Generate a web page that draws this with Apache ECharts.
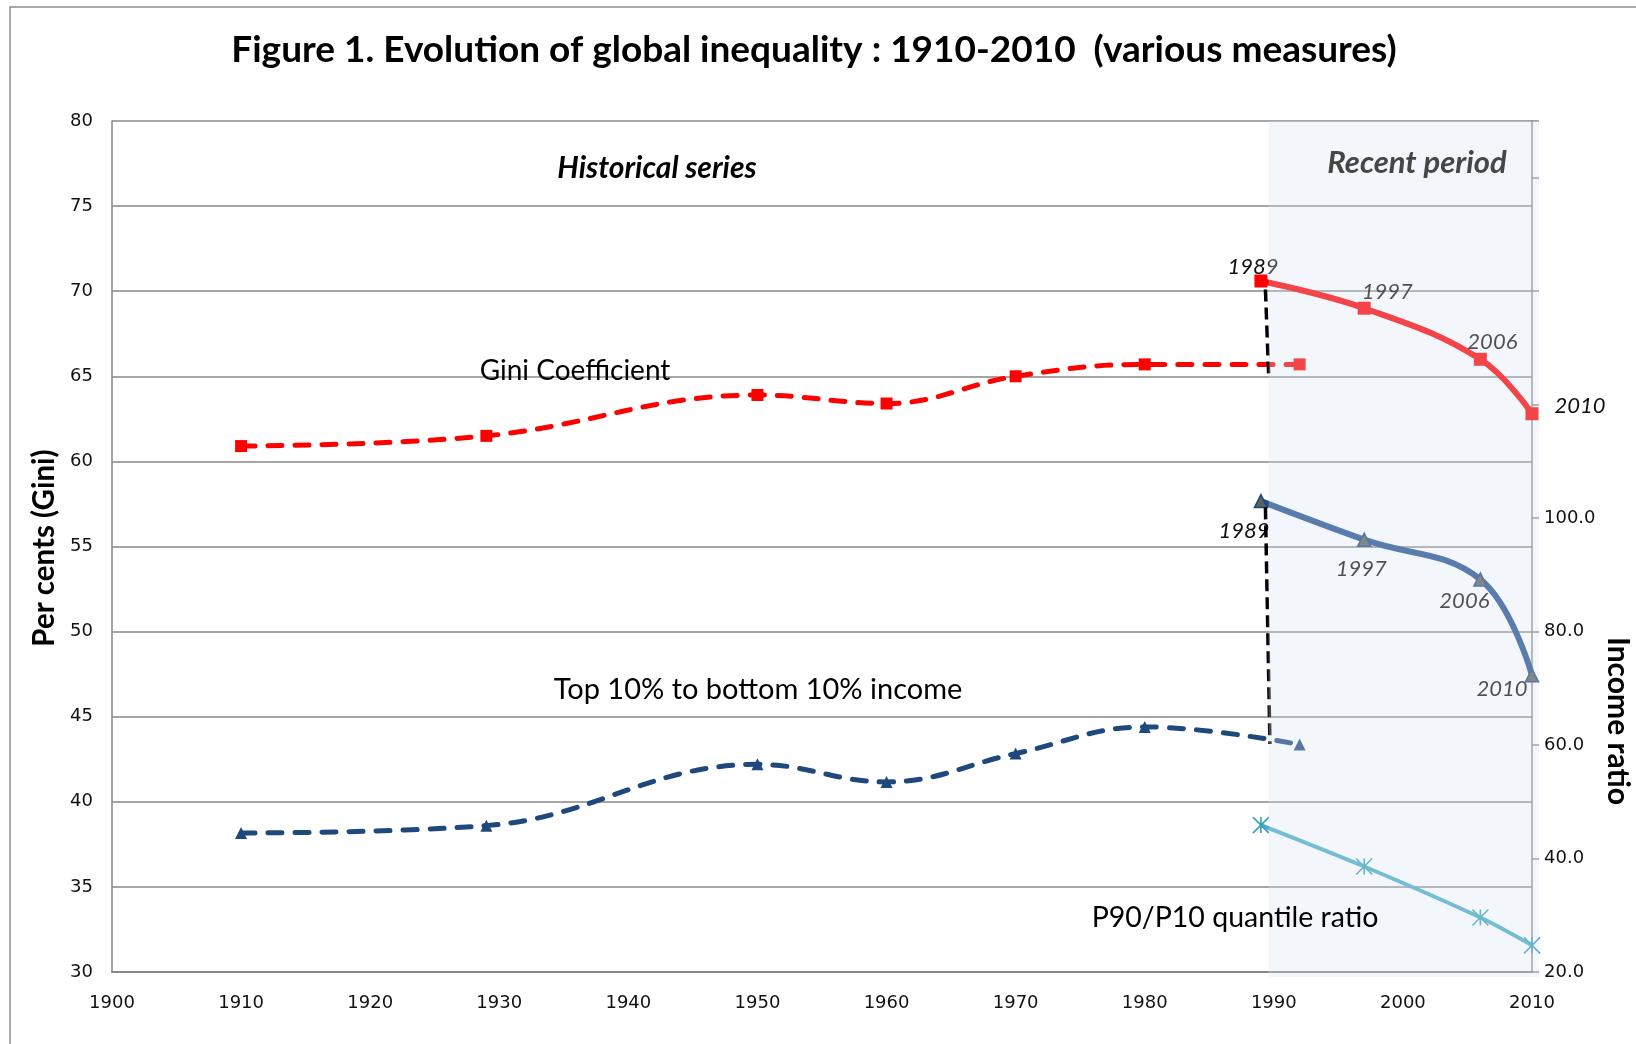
<!DOCTYPE html>
<html><head><meta charset="utf-8">
<script src="https://cdn.jsdelivr.net/npm/echarts@6/dist/echarts.min.js"></script>
<style>html,body{margin:0;padding:0;background:#fff}#c{width:1636px;height:1044px}</style>
</head><body><div id="c"></div>
<script>
// ---- data ----
const histYears = [1910, 1929, 1950, 1960, 1970, 1980, 1992];
const giniHist = [60.9, 61.5, 63.9, 63.4, 65.0, 65.7, 65.7];          // left axis (per cents)
const top10Hist = [44.5, 45.8, 56.6, 53.5, 58.5, 63.2, 60.1];         // right axis (income ratio)
const recentYears = [1989, 1997, 2006, 2010];
const giniRecent = [70.6, 69.0, 66.0, 62.8];                           // left axis
const top10Recent = [103.0, 96.2, 89.2, 72.3];                         // right axis
const p9010Recent = [45.9, 38.6, 29.6, 24.7];                          // right axis
const recentLabels = ['1989', '1997', '2006', '2010'];
const giniLink = [[1989.35, 70.1], [1989.6, 65.1]];                    // left axis
const top10Link = [[1989.35, 57.3], [1989.7, 43.4]];                   // left axis
const xTicks = {min: 1900, max: 2010, interval: 10};
const leftTicks = {min: 30, max: 80, interval: 5};
const rightTicks = {min: 20, max: 170, interval: 20, maxLabel: 100};

// ---- styles ----
const CAL = "Lato, 'Liberation Sans', sans-serif";
const TICK = "'DejaVu Sans', Verdana, sans-serif";
const RED = '#ff0000', BLUE = '#1f497d', BLUE2 = '#24508e', TEAL = '#4bacc6';
const AXIS = '#878787';

const chart = echarts.init(document.getElementById('c'));
const pairs = (xs, ys) => xs.map((x, i) => [x, ys[i]]);

const giniOff = [[-8, -14], [23, -16], [12, -17], [48, -8]];
const top10Off = [[-17, 30], [-3, 29], [-16, 22], [-30, 14]];
function withLabels(xs, ys, offs) {
  return xs.map((x, i) => ({
    value: [x, ys[i]],
    label: {show: true, position: 'inside', offset: offs[i], formatter: recentLabels[i],
      color: '#111', fontStyle: 'italic', fontSize: 22, fontFamily: CAL}
  }));
}

const option = {
  animation: false,
  grid: {left: 112, top: 121, width: 1420, height: 851, containLabel: false},
  xAxis: {
    type: 'value', min: xTicks.min, max: xTicks.max, interval: xTicks.interval,
    axisLine: {show: true, lineStyle: {color: AXIS, width: 2}},
    axisTick: {show: false}, splitLine: {show: false},
    axisLabel: {margin: 22, color: '#111', fontSize: 18, fontFamily: TICK, formatter: v => String(v)}
  },
  yAxis: [{
    type: 'value', min: leftTicks.min, max: leftTicks.max, interval: leftTicks.interval,
    axisLine: {show: true, lineStyle: {color: AXIS, width: 1.5}},
    axisTick: {show: false},
    splitLine: {show: true, lineStyle: {color: AXIS, width: 1.5}},
    axisLabel: {margin: 19, color: '#111', fontSize: 18, fontFamily: TICK}
  }, {
    type: 'value', position: 'right', min: rightTicks.min, max: rightTicks.max, interval: rightTicks.interval,
    axisLine: {show: true, lineStyle: {color: AXIS, width: 1.5}},
    axisTick: {show: true, inside: false, length: 7, lineStyle: {color: AXIS, width: 1.5}},
    splitLine: {show: false},
    axisLabel: {margin: 12, color: '#111', fontSize: 18, fontFamily: TICK,
      formatter: v => (v <= rightTicks.maxLabel ? v.toFixed(1) : '')}
  }],
  series: [
    {type: 'line', name: 'Gini historical', yAxisIndex: 0, data: pairs(histYears, giniHist), smooth: 0.4,
      symbol: 'rect', symbolSize: 12, itemStyle: {color: RED},
      lineStyle: {color: RED, width: 5, type: [14, 13], cap: 'round'}, z: 2},
    {type: 'line', name: 'Top10 historical', yAxisIndex: 1, data: pairs(histYears, top10Hist), smooth: 0.4,
      symbol: 'triangle', symbolSize: 12, itemStyle: {color: BLUE},
      lineStyle: {color: BLUE, width: 5, type: [14, 13], cap: 'round'}, z: 2},
    {type: 'line', name: 'Gini recent', yAxisIndex: 0, data: withLabels(recentYears, giniRecent, giniOff), smooth: 0.4,
      symbol: 'rect', symbolSize: 13, itemStyle: {color: RED},
      lineStyle: {color: RED, width: 6}, z: 2},
    {type: 'line', name: 'Top10 recent', yAxisIndex: 1, data: withLabels(recentYears, top10Recent, top10Off), smooth: 0.4,
      symbol: 'triangle', symbolSize: 13, itemStyle: {color: '#5f5f5f', borderColor: BLUE, borderWidth: 1.5},
      lineStyle: {color: BLUE2, width: 6}, z: 2},
    {type: 'line', name: 'P90/P10 recent', yAxisIndex: 1, data: pairs(recentYears, p9010Recent), smooth: 0.3,
      symbol: 'path://M0,0L16,16M16,0L0,16M8,0L8,16', symbolSize: 16,
      itemStyle: {color: '#3aa0ba', borderColor: '#3aa0ba', borderWidth: 1.6},
      lineStyle: {color: TEAL, width: 4}, z: 2},
    {type: 'line', name: 'link gini', yAxisIndex: 0, data: giniLink, symbol: 'none',
      lineStyle: {color: '#000', width: 3.5, type: [12, 6]}, z: 3},
    {type: 'line', name: 'link top10', yAxisIndex: 0, data: top10Link, symbol: 'none',
      lineStyle: {color: '#000', width: 3.5, type: [12, 6]}, z: 3}
  ]
};
chart.setOption(option);

const p1 = chart.convertToPixel({gridIndex: 0}, [1989.6, 80]);
const p2 = chart.convertToPixel({gridIndex: 0}, [2010.55, 29.7]);

const txt = (x, y, text, o) => Object.assign({type: 'text', x: x, y: y, z: 100,
  style: Object.assign({text: text, fill: '#000', fontFamily: CAL, fontSize: 24,
    align: 'center', verticalAlign: 'middle', textAlign: 'center', textVerticalAlign: 'middle'}, o.style || {})}, o.el || {});

chart.setOption({
  graphic: [
    {type: 'rect', z: 0, shape: {x: 10, y: 7, width: 1700, height: 1100},
      style: {fill: 'none', stroke: '#8e8e8e', lineWidth: 1.5}},
    {type: 'rect', z: 10, shape: {x: p1[0], y: p1[1], width: p2[0] - p1[0], height: p2[1] - p1[1]},
      style: {fill: 'rgba(215,228,242,0.3)'}},
    txt(814, 50, 'Figure 1. Evolution of global inequality : 1910-2010  (various measures)',
      {style: {fontSize: 37, fontWeight: 'bold'}}),
    txt(657, 168, 'Historical series', {style: {fontSize: 30, fontWeight: 'bold', fontStyle: 'italic'}}),
    txt(1417, 163, 'Recent period', {style: {fontSize: 31, fontWeight: 'bold', fontStyle: 'italic', fill: '#464646'}}),
    txt(575, 371, 'Gini Coefficient', {style: {fontSize: 28}}),
    txt(758, 690, 'Top 10% to bottom 10% income', {style: {fontSize: 29}}),
    txt(1235, 918, 'P90/P10 quantile ratio', {style: {fontSize: 28.5}}),
    txt(44, 548, 'Per cents (Gini)', {style: {fontSize: 29.5, fontWeight: 'bold'}, el: {rotation: Math.PI / 2}}),
    txt(1618, 721, 'Income ratio', {style: {fontSize: 30, fontWeight: 'bold'}, el: {rotation: -Math.PI / 2}})
  ]
});
</script>
</body></html>
